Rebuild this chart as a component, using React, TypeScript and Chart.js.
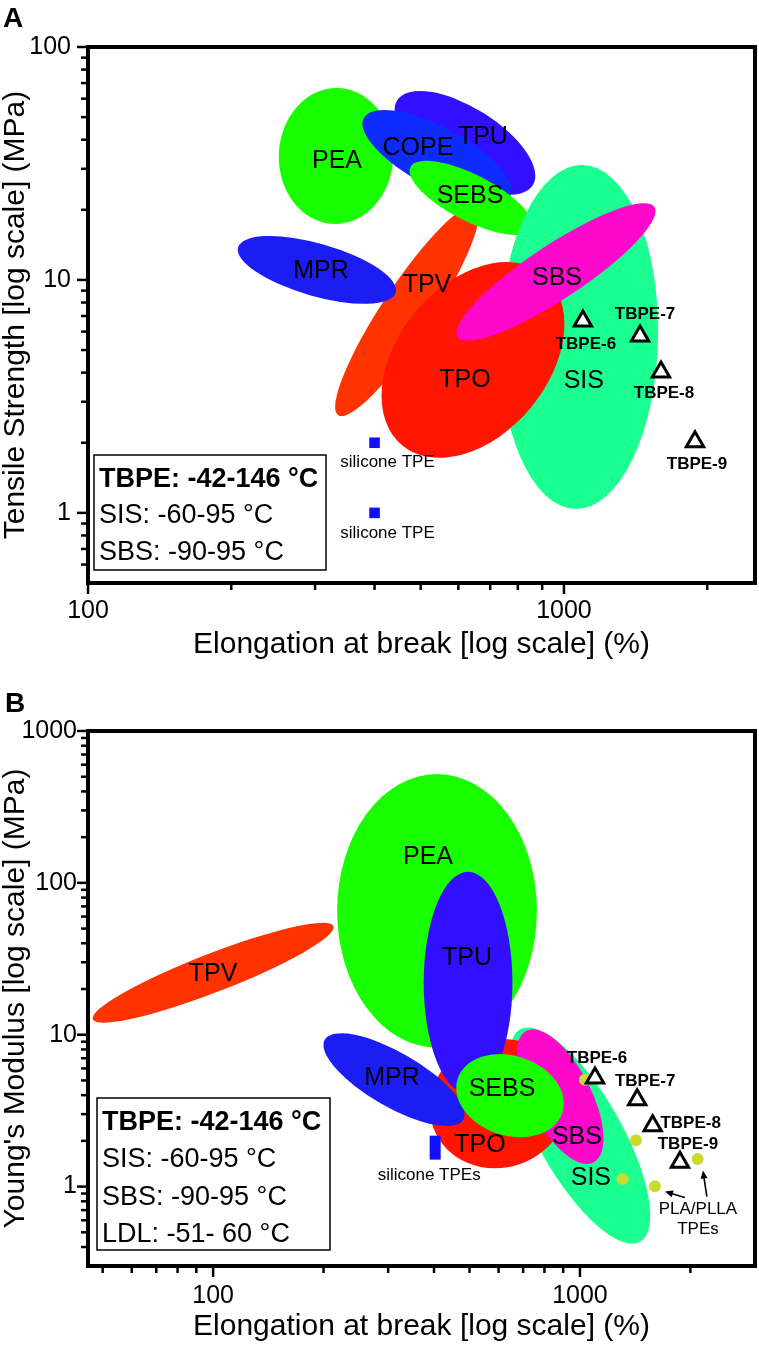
import React, { useEffect, useRef } from "react";
import { Chart, registerables } from "chart.js";
Chart.register(...registerables);

const FONT = "'Liberation Sans', Arial, Helvetica, sans-serif";

// ================= Panel A : Tensile strength vs elongation =================
const A_X_RANGE = [100, 2520];
const A_Y_RANGE = [0.5, 100];
const A_X_TICK_LABELS = [100, 1000];
const A_Y_TICK_LABELS = [1, 10, 100];
// regions drawn in this order (back to front)
const A_REGIONS = ["PEA", "TPU", "COPE", "TPV", "SEBS", "MPR", "SIS", "TPO", "SBS"];
const A_CENTER_X = [331.9, 619.4, 541.1, 468.0, 637.8, 302.7, 1075.4, 644.0, 962.1];
const A_CENTER_Y = [34.06, 38.73, 33.72, 7.362, 22.49, 11.04, 5.693, 4.536, 10.82];
const A_AXIS_END_X = [328.1, 860.0, 771.3, 652.8, 855.0, 443.3, 1056.6, 907.8, 1549];
const A_AXIS_END_Y = [17.39, 25.47, 22.94, 20.64, 16.57, 8.83, 1.04, 10.54, 20.57];
const A_MINOR_RATIO = [0.84, 0.44, 0.36, 0.2, 0.34, 0.32, 0.46, 0.676, 0.23];
const A_LABEL_X = [333.5, 675.7, 493.5, 515.5, 634.7, 308.6, 1101, 619.4, 966.8];
const A_LABEL_Y = [32.41, 41.09, 36.86, 9.52, 22.94, 10.93, 3.686, 3.722, 10.2];
const A_TBPE_NAMES = ["TBPE-6", "TBPE-7", "TBPE-8", "TBPE-9"];
const A_TBPE_ELONGATION = [1096, 1445, 1599, 1885];
const A_TBPE_TENSILE = [6.67, 5.75, 4.03, 2.02];
const A_SILICONE_NAMES = ["silicone TPE", "silicone TPE"];
const A_SILICONE_ELONGATION = [400, 400];
const A_SILICONE_TENSILE = [2, 1];
const A_NOTES = ["TBPE: -42-146 °C", "SIS: -60-95 °C", "SBS: -90-95 °C"];

// ================= Panel B : Young's modulus vs elongation =================
const B_X_RANGE = [45.6, 3000];
const B_Y_RANGE = [0.3, 1000];
const B_X_TICK_LABELS = [100, 1000];
const B_Y_TICK_LABELS = [1, 10, 100, 1000];
const B_REGIONS = ["PEA", "TPV", "SIS", "TPO", "MPR", "TPU", "SBS", "SEBS"];
const B_CENTER_X = [407.7, 100, 1000, 601.6, 311.3, 495.4, 882.2, 644.5];
const B_CENTER_Y = [65.42, 25.58, 2.165, 3.517, 5.057, 21.99, 3.909, 3.969];
const B_AXIS_END_X = [407.7, 212.7, 1458, 909.1, 480.9, 495.4, 1089, 895.1];
const B_AXIS_END_Y = [8.214, 51.8, 0.4334, 5.05, 2.76, 4.091, 1.441, 3.068];
const B_MINOR_RATIO = [0.73, 0.15, 0.344, 0.914, 0.34, 0.4, 0.42, 0.727];
const B_LABEL_X = [385.3, 100, 1071, 534.0, 307.4, 492.3, 981.3, 613.1];
const B_LABEL_Y = [148.3, 25.19, 1.129, 1.889, 5.213, 32.11, 2.133, 4.413];
const B_TBPE_NAMES = ["TBPE-6", "TBPE-7", "TBPE-8", "TBPE-9"];
const B_TBPE_ELONGATION = [1099, 1432, 1578, 1873];
const B_TBPE_MODULUS = [5.19, 3.736, 2.52, 1.445];
const B_PLA_ELONGATION = [1032, 1421, 1307, 1601, 2093];
const B_PLA_MODULUS = [5.06, 2.017, 1.124, 1.005, 1.521];
const B_SILICONE_ELONGATION = [403, 403];
const B_SILICONE_MODULUS = [1.505, 2.165];
const B_PLA_TEXT = ["PLA/PLLA", "TPEs"];
const B_PLA_TEXT_AT = [2097, 0.706];
const B_ARROW_FROM_X = [1932, 2218];
const B_ARROW_FROM_Y = [0.8465, 0.8594];
const B_ARROW_TO_X = [1705, 2163];
const B_ARROW_TO_Y = [0.927, 1.274];
const B_NOTES = ["TBPE: -42-146 °C", "SIS: -60-95 °C", "SBS: -90-95 °C", "LDL: -51- 60 °C"];

// ================= styles =================
const REGION_COLORS: Record<string, string> = {
  PEA: "#1aff00",
  SEBS: "#1aff00",
  TPU: "#3210ff",
  COPE: "#0d2aff",
  MPR: "#1c1cf5",
  TPV: "#ff3300",
  TPO: "#ff1500",
  SIS: "#1aff8f",
  SBS: "#ff08cc",
};
const A_TBPE_OFFSETS = [[3, 23], [5, -22], [3, 21], [2, 23]];
const A_SILICONE_OFFSETS = [[13, 20], [13, 20]];
const B_TBPE_OFFSETS = [[2, -20], [8, -18], [38, -2], [8, -18]];

function buildRegions(names, cx, cy, ex, ey, ratio, lx, ly) {
  return names.map((n, i) => ({
    name: n, cx: cx[i], cy: cy[i], ex: ex[i], ey: ey[i], ratio: ratio[i],
    lx: lx[i], ly: ly[i], color: REGION_COLORS[n],
  }));
}

function isListed(list, v) {
  return list.some((t) => Math.abs(t - v) < 1e-6 * t);
}

function drawArrow(ctx, x1, y1, x2, y2) {
  const ang = Math.atan2(y2 - y1, x2 - x1);
  const head = 8;
  ctx.beginPath();
  ctx.moveTo(x1, y1);
  ctx.lineTo(x2 - Math.cos(ang) * head * 0.8, y2 - Math.sin(ang) * head * 0.8);
  ctx.stroke();
  ctx.beginPath();
  ctx.moveTo(x2, y2);
  ctx.lineTo(x2 - Math.cos(ang) * head + Math.sin(ang) * 3.5, y2 - Math.sin(ang) * head - Math.cos(ang) * 3.5);
  ctx.lineTo(x2 - Math.cos(ang) * head - Math.sin(ang) * 3.5, y2 - Math.sin(ang) * head + Math.cos(ang) * 3.5);
  ctx.closePath();
  ctx.fill();
}

function drawLogTicks(ctx, scale, ca, horizontal) {
  const min = scale.min, max = scale.max;
  ctx.save();
  ctx.strokeStyle = "#000";
  ctx.lineWidth = 2.5;
  for (let d = Math.floor(Math.log10(min)); d <= Math.ceil(Math.log10(max)); d++) {
    for (let m = 1; m <= 9; m++) {
      const v = m * Math.pow(10, d);
      const inside = v > min * 1.0001 && v < max * 0.9999;
      const edgeMajor = m === 1 && v >= min * 0.9999 && v <= max * 1.0001;
      if (!inside && !edgeMajor) continue;
      const p = scale.getPixelForValue(v);
      const len = m === 1 ? 11 : 7;
      ctx.beginPath();
      if (horizontal) {
        ctx.moveTo(p, ca.bottom);
        ctx.lineTo(p, ca.bottom + len);
      } else {
        ctx.moveTo(ca.left, p);
        ctx.lineTo(ca.left - len, p);
      }
      ctx.stroke();
    }
  }
  ctx.restore();
}

function makeDecorPlugin(spec) {
  return {
    id: "decor" + spec.letter,
    beforeDatasetsDraw(chart) {
      const { ctx, chartArea: ca } = chart;
      const x = chart.scales.x, y = chart.scales.y;
      ctx.save();
      ctx.beginPath();
      ctx.rect(ca.left, ca.top, ca.right - ca.left, ca.bottom - ca.top);
      ctx.clip();
      spec.regions.forEach((r) => {
        const cx = x.getPixelForValue(r.cx), cy = y.getPixelForValue(r.cy);
        const ex = x.getPixelForValue(r.ex), ey = y.getPixelForValue(r.ey);
        const a = Math.hypot(ex - cx, ey - cy);
        ctx.beginPath();
        ctx.ellipse(cx, cy, a, a * r.ratio, Math.atan2(ey - cy, ex - cx), 0, Math.PI * 2);
        ctx.fillStyle = r.color;
        ctx.fill();
      });
      ctx.fillStyle = "#000";
      ctx.font = `25px ${FONT}`;
      ctx.textAlign = "center";
      ctx.textBaseline = "middle";
      spec.regions.forEach((r) => {
        ctx.fillText(r.name, x.getPixelForValue(r.lx), y.getPixelForValue(r.ly));
      });
      ctx.restore();
    },
    afterDatasetsDraw(chart) {
      const { ctx } = chart;
      const x = chart.scales.x, y = chart.scales.y;
      ctx.save();
      ctx.fillStyle = "#000";
      ctx.strokeStyle = "#000";
      ctx.textAlign = "center";
      ctx.textBaseline = "middle";
      spec.pointLabels.forEach((l) => {
        ctx.font = l.font;
        ctx.fillText(l.text, x.getPixelForValue(l.x) + l.dx, y.getPixelForValue(l.y) + l.dy);
      });
      ctx.lineWidth = 1.6;
      spec.arrows.forEach((a) => {
        drawArrow(ctx, x.getPixelForValue(a.x1), y.getPixelForValue(a.y1), x.getPixelForValue(a.x2), y.getPixelForValue(a.y2));
      });
      spec.texts.forEach((t) => {
        ctx.font = t.font;
        const px = x.getPixelForValue(t.x), py = y.getPixelForValue(t.y);
        t.lines.forEach((line, i) => ctx.fillText(line, px, py + i * t.lineGap));
      });
      ctx.restore();
    },
    afterDraw(chart) {
      const { ctx, chartArea: ca } = chart;
      ctx.save();
      // frame
      ctx.strokeStyle = "#000";
      ctx.lineWidth = 4;
      ctx.strokeRect(ca.left, ca.top, ca.right - ca.left, ca.bottom - ca.top);
      drawLogTicks(ctx, chart.scales.x, ca, true);
      drawLogTicks(ctx, chart.scales.y, ca, false);
      // notes box
      const nb = spec.noteBox;
      const left = ca.left + nb.left;
      const top = ca.bottom - nb.bottomGap - nb.height;
      ctx.fillStyle = "#fff";
      ctx.fillRect(left, top, nb.width, nb.height);
      ctx.strokeStyle = "#000";
      ctx.lineWidth = 1.5;
      ctx.strokeRect(left, top, nb.width, nb.height);
      ctx.fillStyle = "#000";
      ctx.textAlign = "left";
      ctx.textBaseline = "alphabetic";
      spec.notes.forEach((n, i) => {
        ctx.font = `${i === 0 ? "bold " : ""}27px ${FONT}`;
        ctx.fillText(n, left + 5, ca.bottom - nb.baselines[i]);
      });
      // panel letter
      ctx.font = `bold 28px ${FONT}`;
      ctx.fillText(spec.letter, spec.letterPos[0], spec.letterPos[1]);
      ctx.restore();
    },
  };
}

function makeConfig(spec) {
  return {
    type: "scatter",
    data: { datasets: spec.datasets },
    options: {
      responsive: false,
      animation: false,
      events: [],
      layout: { autoPadding: false, padding: { top: spec.padTop, right: 4, left: 0, bottom: 0 } },
      plugins: { legend: { display: false }, tooltip: { enabled: false }, title: { display: false } },
      scales: {
        x: {
          type: "logarithmic",
          position: "bottom",
          min: spec.xRange[0],
          max: spec.xRange[1],
          grid: { display: false, drawTicks: false, tickLength: 0 },
          border: { display: false },
          ticks: {
            autoSkip: false, maxRotation: 0, minRotation: 0, padding: spec.xLabelPad,
            color: "#000", font: { size: 25, family: FONT },
            callback: (v) => (isListed(spec.xTicks, v) ? String(Math.round(v)) : ""),
          },
          title: {
            display: true, text: spec.xTitle, color: "#000",
            font: { size: 30, family: FONT }, padding: { top: 0, bottom: spec.xTitlePad },
          },
          afterFit: (s) => {
            s.height = spec.xAxisHeight;
            s.paddingLeft = 0;
            s.paddingRight = 0;
          },
        },
        y: {
          type: "logarithmic",
          position: "left",
          min: spec.yRange[0],
          max: spec.yRange[1],
          grid: { display: false, drawTicks: false, tickLength: 0 },
          border: { display: false },
          ticks: {
            autoSkip: false, padding: spec.yLabelPad,
            color: "#000", font: { size: 25, family: FONT },
            callback: (v) => (isListed(spec.yTicks, v) ? String(Math.round(v)) : ""),
          },
          title: {
            display: true, text: spec.yTitle, color: "#000",
            font: { size: 30, family: FONT }, padding: { top: -2, bottom: 0 },
          },
          afterFit: (s) => {
            s.width = 88;
            s.paddingTop = 0;
            s.paddingBottom = 0;
          },
        },
      },
    },
    plugins: [makeDecorPlugin(spec)],
  };
}

const tbpeStyle = {
  pointStyle: "triangle", pointRadius: 10, borderWidth: 3,
  borderColor: "#000", backgroundColor: "#fff", showLine: false,
};

function specA() {
  return {
    letter: "A", letterPos: [3, 27], padTop: 47, xAxisHeight: 89,
    xRange: A_X_RANGE, yRange: A_Y_RANGE, xTicks: A_X_TICK_LABELS, yTicks: A_Y_TICK_LABELS,
    xTitle: "Elongation at break [log scale] (%)",
    yTitle: "Tensile Strength [log scale] (MPa)",
    xLabelPad: 13, yLabelPad: 17, xTitlePad: 9,
    regions: buildRegions(A_REGIONS, A_CENTER_X, A_CENTER_Y, A_AXIS_END_X, A_AXIS_END_Y, A_MINOR_RATIO, A_LABEL_X, A_LABEL_Y),
    datasets: [
      { ...tbpeStyle, order: 0, data: A_TBPE_ELONGATION.map((v, i) => ({ x: v, y: A_TBPE_TENSILE[i] })) },
      {
        order: 1, pointStyle: "rect", pointRadius: 7.5, borderWidth: 0,
        backgroundColor: "#1010ff", borderColor: "#1010ff", showLine: false,
        data: A_SILICONE_ELONGATION.map((v, i) => ({ x: v, y: A_SILICONE_TENSILE[i] })),
      },
    ],
    pointLabels: [
      ...A_TBPE_NAMES.map((n, i) => ({
        text: n, x: A_TBPE_ELONGATION[i], y: A_TBPE_TENSILE[i],
        dx: A_TBPE_OFFSETS[i][0], dy: A_TBPE_OFFSETS[i][1], font: `bold 17px ${FONT}`,
      })),
      ...A_SILICONE_NAMES.map((n, i) => ({
        text: n, x: A_SILICONE_ELONGATION[i], y: A_SILICONE_TENSILE[i],
        dx: A_SILICONE_OFFSETS[i][0], dy: A_SILICONE_OFFSETS[i][1], font: `17px ${FONT}`,
      })),
    ],
    arrows: [],
    texts: [],
    notes: A_NOTES,
    noteBox: { left: 6, width: 232, height: 115, bottomGap: 13, baselines: [96, 60, 23] },
  };
}

function specB() {
  return {
    letter: "B", letterPos: [5, 40], padTop: 59, xAxisHeight: 79,
    xRange: B_X_RANGE, yRange: B_Y_RANGE, xTicks: B_X_TICK_LABELS, yTicks: B_Y_TICK_LABELS,
    xTitle: "Elongation at break [log scale] (%)",
    yTitle: "Young's Modulus [log scale] (MPa)",
    xLabelPad: 15, yLabelPad: 11, xTitlePad: 0,
    regions: buildRegions(B_REGIONS, B_CENTER_X, B_CENTER_Y, B_AXIS_END_X, B_AXIS_END_Y, B_MINOR_RATIO, B_LABEL_X, B_LABEL_Y),
    datasets: [
      { ...tbpeStyle, order: 0, data: B_TBPE_ELONGATION.map((v, i) => ({ x: v, y: B_TBPE_MODULUS[i] })) },
      {
        order: 1, pointStyle: "circle", pointRadius: 6, borderWidth: 0,
        backgroundColor: "#cbdb2c", borderColor: "#cbdb2c", showLine: false,
        data: B_PLA_ELONGATION.map((v, i) => ({ x: v, y: B_PLA_MODULUS[i] })),
      },
      {
        order: 2, showLine: true, pointRadius: 0, borderWidth: 11, borderCapStyle: "butt",
        borderColor: "#1010ff", backgroundColor: "#1010ff",
        data: B_SILICONE_ELONGATION.map((v, i) => ({ x: v, y: B_SILICONE_MODULUS[i] })),
      },
    ],
    pointLabels: [
      ...B_TBPE_NAMES.map((n, i) => ({
        text: n, x: B_TBPE_ELONGATION[i], y: B_TBPE_MODULUS[i],
        dx: B_TBPE_OFFSETS[i][0], dy: B_TBPE_OFFSETS[i][1], font: `bold 17px ${FONT}`,
      })),
      { text: "silicone TPEs", x: B_SILICONE_ELONGATION[0], y: B_SILICONE_MODULUS[0], dx: -6, dy: 16, font: `17px ${FONT}` },
    ],
    arrows: B_ARROW_FROM_X.map((v, i) => ({ x1: v, y1: B_ARROW_FROM_Y[i], x2: B_ARROW_TO_X[i], y2: B_ARROW_TO_Y[i] })),
    texts: [{ x: B_PLA_TEXT_AT[0], y: B_PLA_TEXT_AT[1], lines: B_PLA_TEXT, lineGap: 20, font: `17px ${FONT}` }],
    notes: B_NOTES,
    noteBox: { left: 9, width: 233, height: 152, bottomGap: 16, baselines: [136, 99, 61, 24] },
  };
}

export default function App() {
  const refA = useRef<HTMLCanvasElement>(null);
  const refB = useRef<HTMLCanvasElement>(null);
  useEffect(() => {
    document.body.style.margin = "0";
    const ca = new Chart(refA.current as HTMLCanvasElement, makeConfig(specA()) as any);
    const cb = new Chart(refB.current as HTMLCanvasElement, makeConfig(specB()) as any);
    return () => {
      ca.destroy();
      cb.destroy();
    };
  }, []);
  return (
    <div style={{ position: "absolute", left: 0, top: 0, width: 759, height: 1345, background: "#fff" }}>
      <canvas ref={refA} width={759} height={672} style={{ position: "absolute", left: 0, top: 0 }} />
      <canvas ref={refB} width={759} height={673} style={{ position: "absolute", left: 0, top: 672 }} />
    </div>
  );
}
